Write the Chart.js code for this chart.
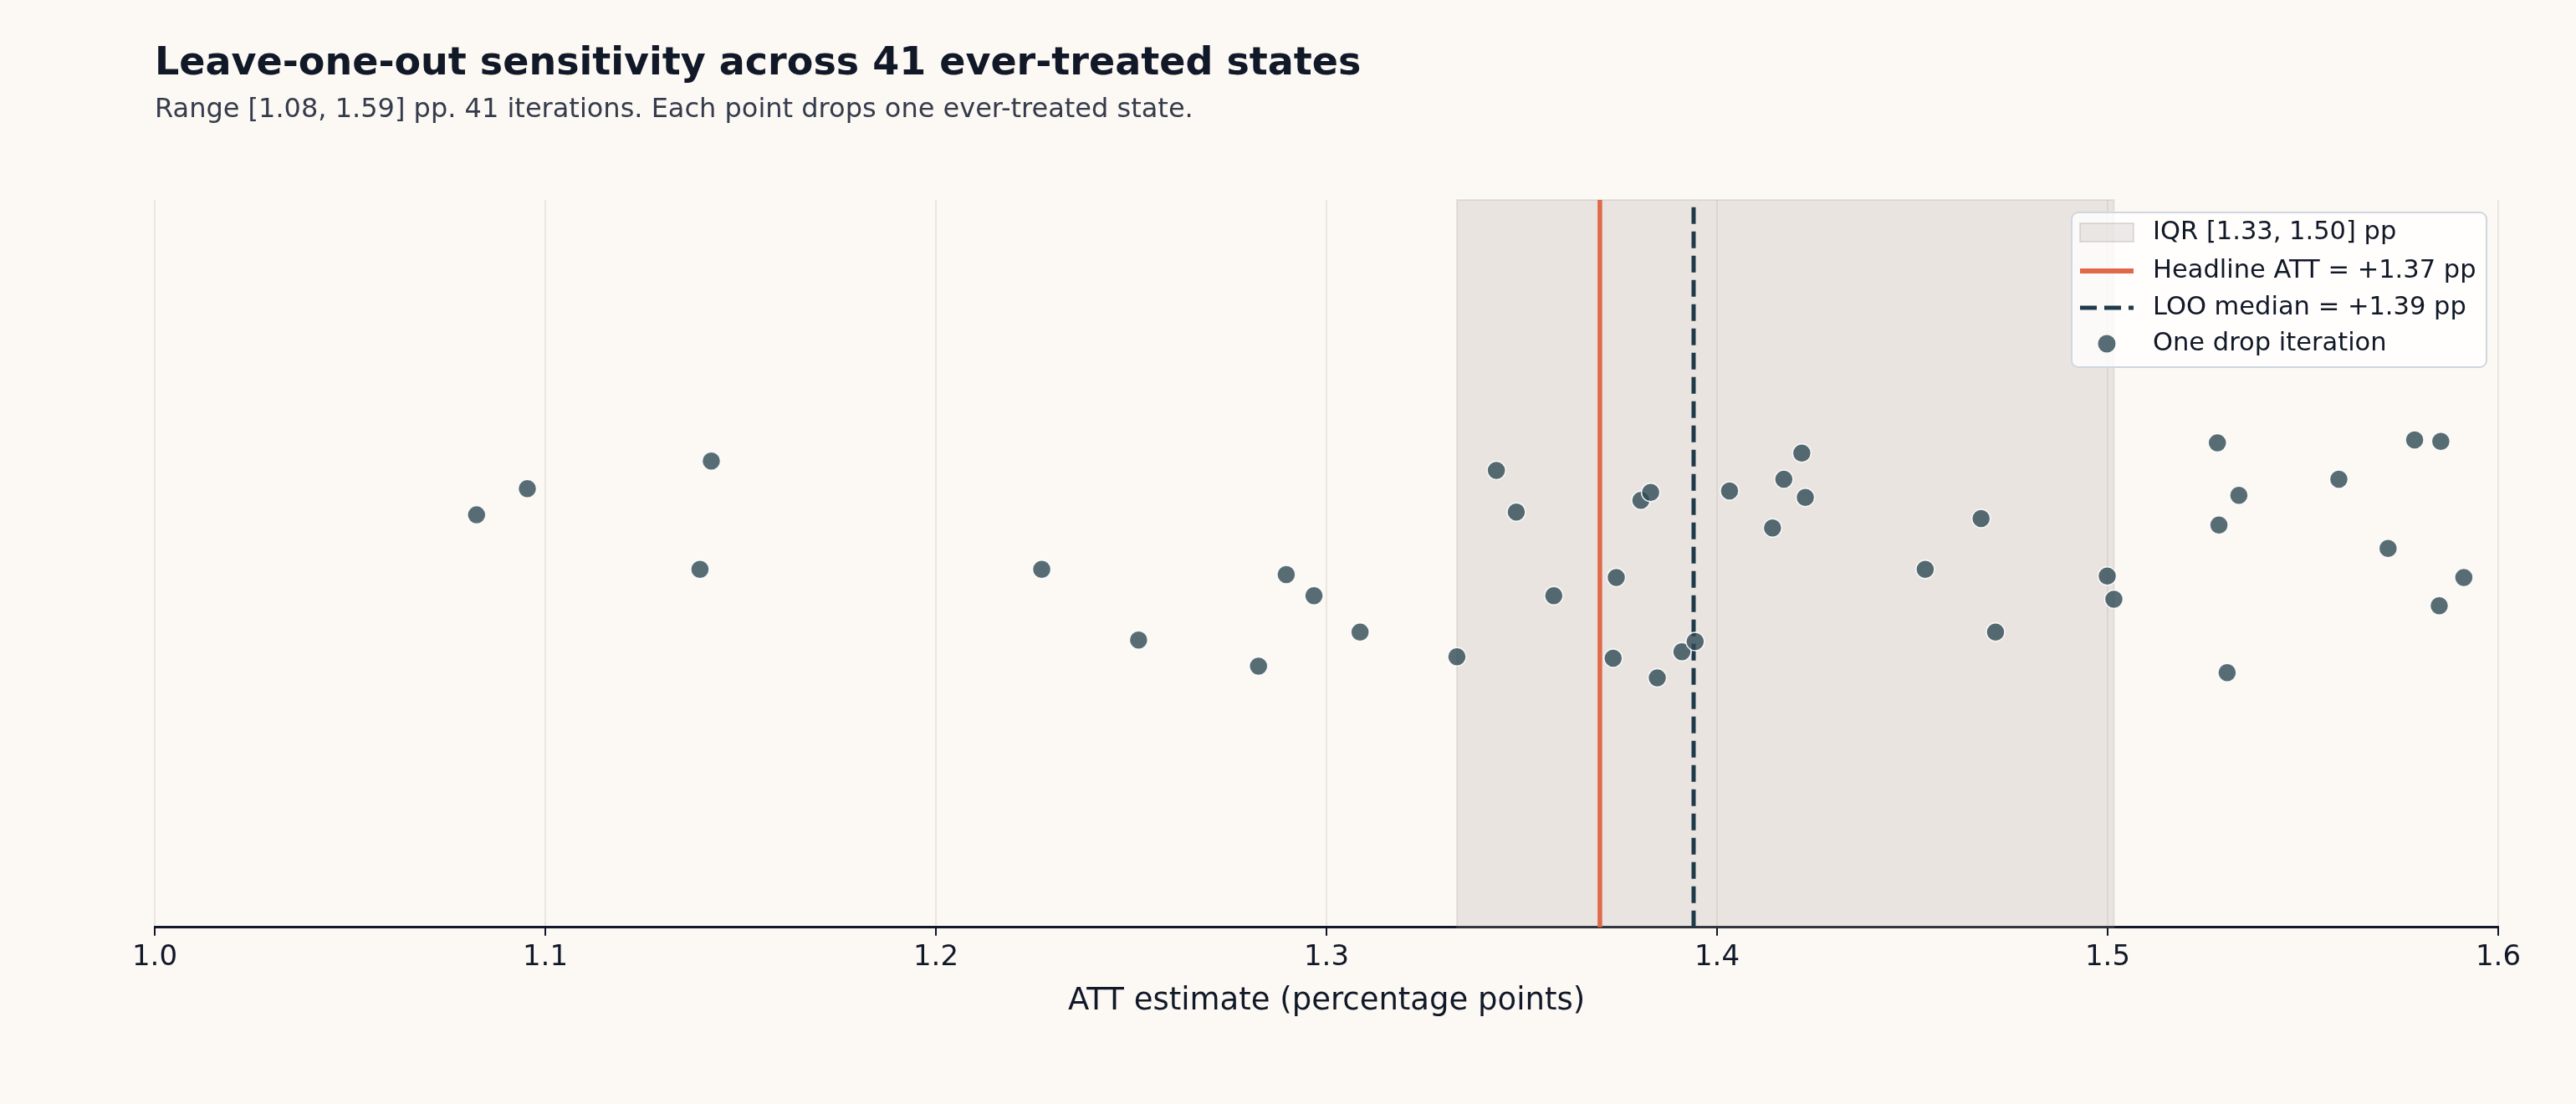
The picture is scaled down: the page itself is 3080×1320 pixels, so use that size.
<!DOCTYPE html>
<html>
<head>
<meta charset="utf-8">
<script src="https://cdn.jsdelivr.net/npm/chart.js@4.4.1/dist/chart.umd.min.js"></script>
<style>
  html, body { margin: 0; padding: 0; background: #fcf8f4; }
  #wrap { width: 3080px; height: 1320px; }
</style>
</head>
<body>
<div id="wrap"><canvas id="chart" width="3080" height="1320"></canvas></div>
<script>
// Leave-one-out: one ATT estimate per dropped state, with a vertical jitter
const ESTIMATES = [
  1.0824, 1.0954, 1.1425, 1.1396, 1.2271, 1.2519, 1.2826, 1.2897, 1.2968, 1.3086,
  1.3334, 1.3435, 1.3486, 1.3582, 1.3742, 1.3734, 1.3805, 1.3830, 1.3847, 1.3910,
  1.3944, 1.4032, 1.4142, 1.4171, 1.4217, 1.4226, 1.4533, 1.4676, 1.4713, 1.4999,
  1.5016, 1.5281, 1.5285, 1.5306, 1.5336, 1.5592, 1.5718, 1.5786, 1.5853, 1.5849,
  1.5912,
];
const JITTER = [
  0.567, 0.603, 0.641, 0.492, 0.492, 0.395, 0.359, 0.485, 0.456, 0.406,
  0.372, 0.628, 0.571, 0.456, 0.481, 0.370, 0.587, 0.598, 0.343, 0.379,
  0.393, 0.600, 0.549, 0.616, 0.652, 0.591, 0.492, 0.562, 0.406, 0.483,
  0.451, 0.666, 0.553, 0.350, 0.594, 0.616, 0.521, 0.670, 0.668, 0.442,
  0.481,
];
const HEADLINE = 1.37;
const LOO_MEDIAN = 1.394;
const IQR = [1.3334, 1.5016];
const X_TICKS = [1.0, 1.1, 1.2, 1.3, 1.4, 1.5, 1.6];
const LEGEND_LABELS = [
  "IQR [1.33, 1.50] pp",
  "Headline ATT = +1.37 pp",
  "LOO median = +1.39 pp",
  "One drop iteration",
];

const FONT = "'DejaVu Sans', sans-serif";
const INK = "#111827";
const ORANGE = "#e0694a";
const NAVY = "#1f3a4a";
const DOT = "rgba(46, 72, 84, 0.8)";
const BAND = "rgba(160, 150, 145, 0.2)";

// bande IQR, dessinée derrière les séries
const iqrBand = {
  id: "iqrBand",
  beforeDatasetsDraw(chart) {
    const { ctx, chartArea, scales } = chart;
    const x0 = scales.x.getPixelForValue(IQR[0]);
    const x1 = scales.x.getPixelForValue(IQR[1]);
    ctx.save();
    ctx.fillStyle = BAND;
    ctx.fillRect(x0, chartArea.top, x1 - x0, chartArea.bottom - chartArea.top);
    ctx.strokeStyle = "rgba(150, 140, 135, 0.18)";
    ctx.lineWidth = 2;
    ctx.strokeRect(x0, chartArea.top, x1 - x0, chartArea.bottom - chartArea.top);
    ctx.restore();
  },
};

// légende encadrée en haut à droite
const boxLegend = {
  id: "boxLegend",
  afterDraw(chart) {
    const { ctx, chartArea } = chart;
    const w = 496, h = 185;
    const left = chartArea.right - 14 - w;
    const top = chartArea.top + 15;
    ctx.save();
    ctx.beginPath();
    ctx.roundRect(left, top, w, h, 8);
    ctx.fillStyle = "rgba(255, 255, 255, 0.8)";
    ctx.fill();
    ctx.strokeStyle = "#cfd6e0";
    ctx.lineWidth = 2;
    ctx.stroke();

    const rows = [top + 24, top + 70, top + 114, top + 157];
    const hx = left + 10, hw = 64;

    ctx.fillStyle = BAND;
    ctx.fillRect(hx, rows[0] - 11, hw, 22);
    ctx.strokeStyle = "rgba(150, 140, 135, 0.25)";
    ctx.lineWidth = 2;
    ctx.strokeRect(hx, rows[0] - 11, hw, 22);

    ctx.beginPath();
    ctx.moveTo(hx, rows[1]);
    ctx.lineTo(hx + hw, rows[1]);
    ctx.strokeStyle = ORANGE;
    ctx.lineWidth = 6;
    ctx.stroke();

    ctx.beginPath();
    ctx.setLineDash([20, 9]);
    ctx.moveTo(hx, rows[2]);
    ctx.lineTo(hx + hw, rows[2]);
    ctx.strokeStyle = NAVY;
    ctx.lineWidth = 5;
    ctx.stroke();
    ctx.setLineDash([]);

    ctx.beginPath();
    ctx.arc(hx + hw / 2, rows[3], 10.5, 0, Math.PI * 2);
    ctx.fillStyle = DOT;
    ctx.fill();

    ctx.fillStyle = INK;
    ctx.font = "30.5px " + FONT;
    ctx.textBaseline = "middle";
    ctx.textAlign = "left";
    LEGEND_LABELS.forEach((t, i) => ctx.fillText(t, left + 97, rows[i]));
    ctx.restore();
  },
};

new Chart(document.getElementById("chart"), {
  type: "scatter",
  data: {
    datasets: [
      {
        label: "One drop iteration",
        data: ESTIMATES.map((v, i) => ({ x: v, y: JITTER[i] })),
        pointRadius: 11,
        pointBackgroundColor: DOT,
        pointBorderColor: "rgba(255, 255, 255, 0.9)",
        pointBorderWidth: 1.5,
        order: 0,
      },
      {
        label: "Headline ATT",
        type: "line",
        data: [{ x: HEADLINE, y: 0 }, { x: HEADLINE, y: 1 }],
        borderColor: ORANGE,
        borderWidth: 5.5,
        pointRadius: 0,
        order: 1,
      },
      {
        label: "LOO median",
        type: "line",
        data: [{ x: LOO_MEDIAN, y: 0 }, { x: LOO_MEDIAN, y: 1 }],
        borderColor: NAVY,
        borderWidth: 5,
        borderDash: [20, 9],
        pointRadius: 0,
        order: 2,
      },
    ],
  },
  options: {
    responsive: false,
    animation: false,
    layout: { padding: { left: 185, right: 93, top: 0, bottom: 100 } },
    plugins: {
      legend: { display: false },
      tooltip: { enabled: false },
      title: {
        display: true,
        text: "Leave-one-out sensitivity across 41 ever-treated states",
        align: "start",
        color: INK,
        font: { family: FONT, size: 46, weight: "bold" },
        padding: { top: 49, bottom: 0 },
      },
      subtitle: {
        display: true,
        text: "Range [1.08, 1.59] pp. 41 iterations. Each point drops one ever-treated state.",
        align: "start",
        color: "#343b4a",
        font: { family: FONT, size: 32 },
        padding: { top: 8.6, bottom: 87.8 },
      },
    },
    scales: {
      x: {
        type: "linear",
        min: 1.0,
        max: 1.6,
        afterBuildTicks: (axis) => {
          axis.ticks = X_TICKS.map((v) => ({ value: v }));
        },
        ticks: {
          color: INK,
          font: { family: FONT, size: 34 },
          padding: 6,
          callback: (v) => Number(v).toFixed(1),
        },
        grid: {
          color: "#ebe6e2",
          lineWidth: 2,
          tickColor: INK,
          tickLength: 10,
          tickWidth: 2,
        },
        border: { color: INK, width: 3 },
        title: {
          display: true,
          text: "ATT estimate (percentage points)",
          color: INK,
          font: { family: FONT, size: 37 },
          padding: { top: 4, bottom: 0 },
        },
      },
      y: {
        display: false,
        min: 0,
        max: 1,
      },
    },
  },
  plugins: [iqrBand, boxLegend],
});
</script>
</body>
</html>
